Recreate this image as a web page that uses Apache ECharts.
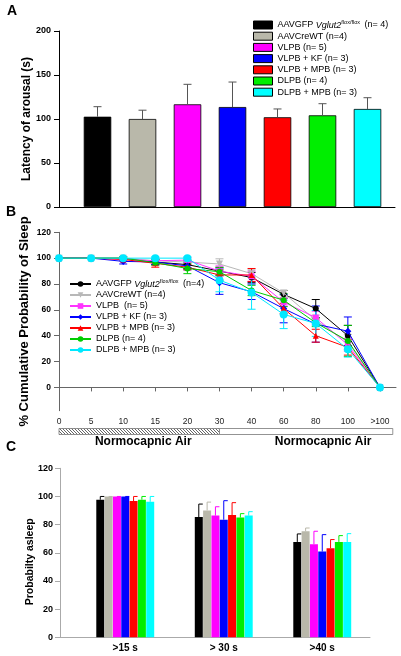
<!DOCTYPE html>
<html><head><meta charset="utf-8">
<script src="https://cdn.jsdelivr.net/npm/echarts@6/dist/echarts.min.js"></script>
<style>html,body{margin:0;padding:0;background:#fff}#c{width:401px;height:656px}</style>
</head><body><div id="c"></div>
<script>
// ---------- DATA ----------
const groupNames = ['AAVGFP Vglut2 (n= 4)','AAVCreWT (n=4)','VLPB (n= 5)','VLPB + KF (n= 3)','VLPB + MPB (n= 3)','DLPB (n= 4)','DLPB + MPB (n= 3)'];
const lineNames = ['AAVGFP Vglut2 (n=4)','AAVCreWT (n=4)','VLPB  (n= 5)','VLPB + KF (n= 3)','VLPB + MPB (n= 3)','DLPB (n= 4)','DLPB + MPB (n= 3)'];
// Panel A
const latency    = [102.6, 100.0, 116.7, 113.6, 102.0, 104.2, 111.4];
const latencyErr = [11.4, 10.0, 22.7, 28.4, 9.4, 13.2, 12.8];
const latencyTicks = [0, 50, 100, 150, 200];
// Panel B
const timeLabels = ['0','5','10','15','20','30','40','60','80','100','>100'];
const sleepAAVGFP   = [100,100,100,97,95,90,85,72,61,40,0];
const sleepCreWT    = [100,100,100,98,97,95.5,88,73,52,35,0];
const sleepVLPB     = [100,100,99,98,98.5,90,86,66,54,33,0];
const sleepKF       = [100,100,97.5,97,94,81,74,61,49,43.5,0];
const sleepMPB      = [100,100,99,96,93,87,87,61,40,31,0];
const sleepDLPB     = [100,100,100,96.5,92,89.5,75,67.5,50,36,0];
const sleepDLPBMPB  = [100,100,100,100,100,83,73.5,56.5,49.5,29.5,0];
const errAAVGFP  = [0,0,1,2,3,3,4,3,7,8,0];
const errCreWT   = [0,0,1,1,2,4,3,2,4,6,0];
const errVLPB    = [0,0,1,2,2,4,4,3,5,5,0];
const errKF      = [0,0,2,2,3,9,6,11,14,11,0];
const errMPB     = [0,0,1,3,2,4,5,4,5,6,0];
const errDLPB    = [0,0,1,2,4,3,4,5,3,12,0];
const errDLPBMPB = [0,0,0,1,1,9,13,11,10,6,0];
const sleepTicks = [0,20,40,60,80,100,120];
// Panel C
const probCats = ['>15 s','> 30 s','>40 s'];
const probAAVGFP  = [97.7, 85.4, 67.7];
const probCreWT   = [100, 90.1, 75.3];
const probVLPB    = [100, 86.4, 66.1];
const probKF      = [100, 83.5, 60.9];
const probMPB     = [96.7, 86.8, 63.2];
const probDLPB    = [97.7, 85.0, 67.7];
const probDLPBMPB = [96.2, 86.4, 67.7];
const probErrAAVGFP  = [2.3, 9.2, 5.7];
const probErrCreWT   = [0, 5.9, 2.3];
const probErrVLPB    = [0, 6.3, 9.2];
const probErrKF      = [0, 13.5, 12.0];
const probErrMPB     = [3.3, 8.8, 6.2];
const probErrDLPB    = [2.3, 2.8, 4.5];
const probErrDLPBMPB = [3.8, 2.8, 5.9];

// ---------- STYLE ----------
const barColors  = ['#000000','#b9b8aa','#ff00ff','#0000ff','#ff0000','#00ee00','#00ffff'];
const lineColors = ['#000000','#b8b8b8','#ff33ff','#0000ff','#ff0000','#00cc00','#00e8ff'];
const symbols = ['circle','triangle','rect','diamond','triangle','circle','circle'];
const symRot  = [0,180,0,0,0,0,0];
const symSize = [6,7,6,7,6,6,8];
const FONT = 'Liberation Sans, Arial, sans-serif';

const sleepSeries = [sleepAAVGFP,sleepCreWT,sleepVLPB,sleepKF,sleepMPB,sleepDLPB,sleepDLPBMPB];
const sleepErrs = [errAAVGFP,errCreWT,errVLPB,errKF,errMPB,errDLPB,errDLPBMPB];
const probSeries = [probAAVGFP,probCreWT,probVLPB,probKF,probMPB,probDLPB,probDLPBMPB];
const probErrs = [probErrAAVGFP,probErrCreWT,probErrVLPB,probErrKF,probErrMPB,probErrDLPB,probErrDLPBMPB];

const chart = echarts.init(document.getElementById('c'), null, {renderer:'canvas'});

const series = [];
// Panel A bars
groupNames.forEach((n, i) => {
  series.push({
    type:'bar', name:'A:'+n, xAxisIndex:1, yAxisIndex:1,
    data: latency.map((v, j) => j === i ? v : '-'),
    barWidth: 27.5, barGap:'-100%',
    itemStyle:{color:barColors[i], borderColor:'#000', borderWidth:0.8},
    emphasis:{disabled:true}, animation:false
  });
});
series.push({
  type:'custom', xAxisIndex:1, yAxisIndex:1, z:5, animation:false,
  data: latency.map((v, i) => [i, v, latencyErr[i]]),
  renderItem: (p, api) => {
    const a = api.coord([api.value(0), api.value(1)]);
    const b = api.coord([api.value(0), api.value(1) + api.value(2)]);
    const st = {stroke:'#555', lineWidth:1};
    return {type:'group', children:[
      {type:'line', shape:{x1:a[0], y1:a[1], x2:b[0], y2:b[1]}, style:st},
      {type:'line', shape:{x1:b[0]-4, y1:b[1], x2:b[0]+4, y2:b[1]}, style:st}
    ]};
  }
});
// Panel B lines
lineNames.forEach((n, i) => {
  series.push({
    type:'line', name:'B:'+n, xAxisIndex:2, yAxisIndex:2,
    data: sleepSeries[i].map((v, j) => [j, v]),
    symbol: symbols[i], symbolRotate: symRot[i], symbolSize: symSize[i],
    showAllSymbol:true, z: 3 + i*0.1,
    lineStyle:{color:lineColors[i], width:1}, itemStyle:{color:lineColors[i]},
    emphasis:{disabled:true}, animation:false
  });
  series.push({
    type:'custom', xAxisIndex:2, yAxisIndex:2, z:2, animation:false,
    data: sleepSeries[i].map((v, j) => [j, v, sleepErrs[i][j]]),
    renderItem: (p, api) => {
      const e = api.value(2);
      if (!e) return null;
      const t = api.coord([api.value(0), api.value(1) + e]);
      const b = api.coord([api.value(0), api.value(1) - e]);
      const st = {stroke:lineColors[i], lineWidth:1};
      return {type:'group', children:[
        {type:'line', shape:{x1:t[0], y1:t[1], x2:b[0], y2:b[1]}, style:st},
        {type:'line', shape:{x1:t[0]-4, y1:t[1], x2:t[0]+4, y2:t[1]}, style:st},
        {type:'line', shape:{x1:b[0]-4, y1:b[1], x2:b[0]+4, y2:b[1]}, style:st}
      ]};
    }
  });
});
// Panel C bars
const cBarW = 8, cGap = 0.32;
groupNames.forEach((n, i) => {
  series.push({
    type:'bar', name:'C:'+n, xAxisIndex:4, yAxisIndex:4,
    data: probSeries[i], barWidth:cBarW, barGap:'4%',
    itemStyle:{color:barColors[i]}, emphasis:{disabled:true}, animation:false
  });
  series.push({
    type:'custom', xAxisIndex:4, yAxisIndex:4, z:5, animation:false,
    data: probSeries[i].map((v, j) => [j, v, probErrs[i][j]]),
    renderItem: (p, api) => {
      const e = api.value(2);
      const off = (i - 3) * (cBarW + cGap);
      const a = api.coord([api.value(0), api.value(1)]);
      const b = api.coord([api.value(0), api.value(1) + e]);
      const x = a[0] + off;
      const st = {stroke:barColors[i], lineWidth:1};
      return {type:'group', children:[
        {type:'line', shape:{x1:x, y1:a[1], x2:x, y2:b[1]}, style:st},
        {type:'line', shape:{x1:x, y1:b[1], x2:x+4, y2:b[1]}, style:st}
      ]};
    }
  });
});

function legendFmt(name) {
  const n = name.slice(2);
  if (n.indexOf('AAVGFP') === 0) {
    const rest = n.replace('AAVGFP Vglut2', '');
    return '{n|AAVGFP }{i|Vglut2}{s|flox/flox}{n|' + rest + '}';
  }
  return '{n|' + n + '}';
}

const option = {
  backgroundColor:'#fff',
  animation:false,
  textStyle:{fontFamily:FONT},
  grid:[
    {left:59, top:31, width:336, height:176},
    {left:75, top:31, width:315, height:176},
    {left:59, top:232.3, width:337, height:178.4},
    {left:60, top:468.3, width:310, height:169},
    {left:76, top:468.3, width:295.5, height:169}
  ],
  xAxis:[
    {gridIndex:0, type:'value', min:0, max:1, axisLine:{lineStyle:{color:'#000'}}, axisTick:{show:false}, axisLabel:{show:false}, splitLine:{show:false}},
    {gridIndex:1, type:'category', data:groupNames, show:false},
    {gridIndex:2, type:'value', min:0, max:10.5, interval:1,
      axisLine:{lineStyle:{color:'#666'}},
      axisTick:{inside:false, length:4, lineStyle:{color:'#666'}, customValues:timeLabels.map((t,i)=>i)},
      axisLabel:{customValues:timeLabels.map((t,i)=>i), formatter:v => timeLabels[v] ?? '', color:'#222', fontSize:8.5, margin:6, fontFamily:FONT},
      splitLine:{show:false}},
    {gridIndex:3, type:'value', min:0, max:1, axisLine:{lineStyle:{color:'#aaa'}}, axisTick:{show:false}, axisLabel:{show:false}, splitLine:{show:false}},
    {gridIndex:4, type:'category', data:probCats, axisLine:{show:false}, axisTick:{show:false},
      axisLabel:{color:'#000', fontWeight:'bold', fontSize:10, margin:6, fontFamily:FONT}}
  ],
  yAxis:[
    {gridIndex:0, type:'value', min:0, max:200, interval:50,
      axisLine:{show:true, lineStyle:{color:'#000'}}, axisTick:{show:true, length:5, lineStyle:{color:'#000'}},
      axisLabel:{color:'#000', fontWeight:'bold', fontSize:9, margin:8, fontFamily:FONT}, splitLine:{show:false},
      name:'Latency of arousal (s)', nameLocation:'middle', nameGap:26, nameMoveOverlap:false,
      nameTextStyle:{color:'#000', fontWeight:'bold', fontSize:12, fontFamily:FONT}},
    {gridIndex:1, type:'value', min:0, max:200, show:false},
    {gridIndex:2, type:'value', min:-18, max:120,
      axisLine:{show:true, lineStyle:{color:'#666'}},
      axisTick:{show:true, length:5, lineStyle:{color:'#666'}, customValues:sleepTicks},
      axisLabel:{customValues:sleepTicks, color:'#000', fontWeight:'bold', fontSize:8.5, margin:8, fontFamily:FONT}, splitLine:{show:false},
      name:'% Cumulative Probability of Sleep', nameLocation:'middle', nameGap:28, nameMoveOverlap:false,
      nameTextStyle:{color:'#000', fontWeight:'bold', fontSize:13, fontFamily:FONT}},
    {gridIndex:3, type:'value', min:0, max:120, interval:20,
      axisLine:{show:true, lineStyle:{color:'#aaa'}}, axisTick:{show:true, length:5, lineStyle:{color:'#aaa'}},
      axisLabel:{color:'#000', fontWeight:'bold', fontSize:9, margin:7, fontFamily:FONT}, splitLine:{show:false},
      name:'Probabilty asleep', nameLocation:'middle', nameGap:24, nameMoveOverlap:false,
      nameTextStyle:{color:'#000', fontWeight:'bold', fontSize:10.5, fontFamily:FONT, padding:[0,0,0,-18]}},
    {gridIndex:4, type:'value', min:0, max:120, show:false}
  ],
  legend:[
    {orient:'vertical', left:253, top:19.5, padding:0, itemWidth:19, itemHeight:8, itemGap:0.2,
      data:groupNames.map((n, i) => ({name:'A:'+n, icon:'rect', itemStyle:{color:barColors[i], borderColor:'#000', borderWidth:1}})),
      formatter:legendFmt, selectedMode:false,
      textStyle:{fontSize:9, lineHeight:11, color:'#000', fontFamily:FONT,
        rich:{n:{fontSize:9, lineHeight:11, fontFamily:FONT}, i:{fontSize:9, lineHeight:11, fontStyle:'italic', fontFamily:FONT}, s:{fontSize:5.5, lineHeight:11, verticalAlign:'top', padding:[0,2,0,0], fontFamily:FONT}}}},
    {orient:'vertical', left:69, top:278.5, padding:0, itemWidth:21, itemHeight:7, itemGap:0,
      data:lineNames.map(n => 'B:'+n),
      formatter:legendFmt, selectedMode:false,
      textStyle:{fontSize:9, lineHeight:11, color:'#000', fontFamily:FONT,
        rich:{n:{fontSize:9, lineHeight:11, fontFamily:FONT}, i:{fontSize:9, lineHeight:11, fontStyle:'italic', fontFamily:FONT}, s:{fontSize:5.5, lineHeight:11, verticalAlign:'top', padding:[0,2,0,0], fontFamily:FONT}}}}
  ],
  series: series
};
chart.setOption(option);

// decorative annotations under panel B, positioned from the axis scale
const hatch = document.createElement('canvas');
hatch.width = 3; hatch.height = 3;
const hc = hatch.getContext('2d');
hc.fillStyle = '#fff'; hc.fillRect(0,0,3,3);
hc.strokeStyle = '#555'; hc.lineWidth = 0.9;
hc.beginPath(); hc.moveTo(-1,-1); hc.lineTo(4,4); hc.stroke();

const xA = chart.convertToPixel({xAxisIndex:2}, 0);
const xB = chart.convertToPixel({xAxisIndex:2}, timeLabels.indexOf('30'));
const xC = chart.convertToPixel({xAxisIndex:2}, 10.4);
chart.setOption({
  graphic:[
    {type:'text', left:7, top:4, style:{text:'A', font:'bold 14px '+FONT, fill:'#000'}},
    {type:'text', left:6, top:205, style:{text:'B', font:'bold 14px '+FONT, fill:'#000'}},
    {type:'text', left:6, top:440, style:{text:'C', font:'bold 14px '+FONT, fill:'#000'}},
    {type:'rect', shape:{x:xA, y:428.5, width:xB-xA, height:6}, style:{fill:{image:hatch, repeat:'repeat'}, stroke:'#777', lineWidth:0.8}},
    {type:'rect', shape:{x:xB, y:428.5, width:xC-xB, height:6}, style:{fill:'#fff', stroke:'#777', lineWidth:0.8}},
    {type:'text', x:(xA+xB)/2+4, y:442, style:{text:'Normocapnic Air', font:'bold 12px '+FONT, fill:'#000', align:'center', verticalAlign:'middle'}},
    {type:'text', x:(xB+xC)/2+17, y:442, style:{text:'Normocapnic Air', font:'bold 12px '+FONT, fill:'#000', align:'center', verticalAlign:'middle'}}
  ]
});
</script>
</body></html>
